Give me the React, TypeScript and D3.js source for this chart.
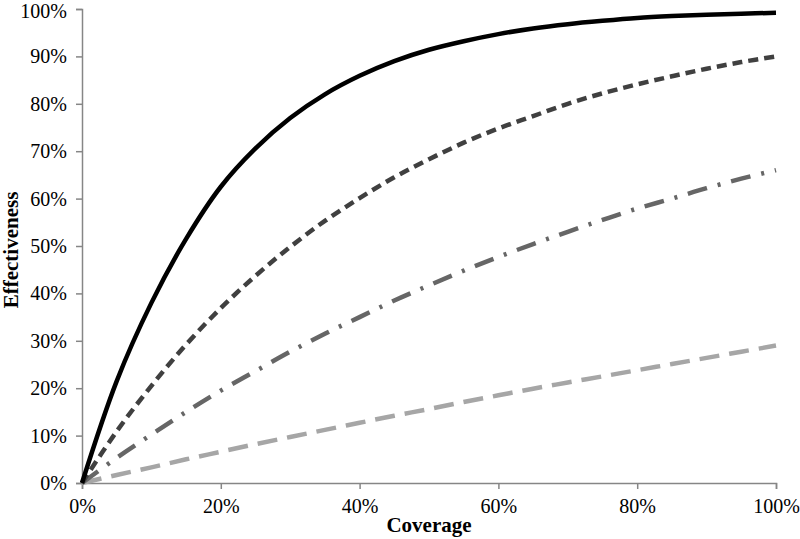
import React, { useEffect, useRef } from "react";
import * as d3 from "d3";

const coverage = [0, 5, 10, 15, 20, 25, 30, 35, 40, 45, 50, 55, 60, 65, 70, 75, 80, 85, 90, 95, 100];
const solidSeries = [0, 21.5, 38, 51.5, 62.5, 70.6, 77, 82, 85.9, 89, 91.4, 93.2, 94.7, 95.9, 96.8, 97.5, 98.1, 98.5, 98.8, 99, 99.2];
const shortDashSeries = [0, 10.9, 20.5, 29.2, 36.9, 43.7, 49.8, 55.3, 60.1, 64.5, 68.3, 71.8, 74.8, 77.4, 80, 82.2, 84.1, 85.8, 87.4, 88.8, 90];
const dashDotSeries = [0, 5.3, 10.2, 15, 19.5, 23.6, 27.7, 31.5, 35, 38.5, 41.7, 44.8, 47.7, 50.4, 53, 55.5, 57.9, 60, 62.2, 64.2, 66];
const longDashSeries = [0, 1.7, 3.3, 5, 6.6, 8.2, 9.7, 11.2, 12.7, 14.2, 15.6, 17.1, 18.5, 19.9, 21.2, 22.5, 23.8, 25.1, 26.4, 27.7, 29];
const tickValues = [0, 20, 40, 60, 80, 100];
const yTickValues = [0, 10, 20, 30, 40, 50, 60, 70, 80, 90, 100];

const seriesList = [
  { values: longDashSeries, color: "#a6a6a6", dash: "20,10" },
  { values: dashDotSeries, color: "#666666", dash: "20,11,3,11" },
  { values: shortDashSeries, color: "#404040", dash: "10,6" },
  { values: solidSeries, color: "#000000", dash: null },
];

export default function App() {
  const ref = useRef<SVGSVGElement>(null);

  useEffect(() => {
    const svg = d3.select(ref.current);
    svg.selectAll("*").remove();

    const width = 800, height = 539;
    const margin = { top: 9, right: 24, bottom: 56, left: 82 };

    const x = d3.scaleLinear().domain([0, 100]).range([margin.left, width - margin.right]);
    const y = d3.scaleLinear().domain([0, 100]).range([height - margin.bottom, margin.top]);

    const font = "'Liberation Serif', serif";

    // axes
    const xAxis = svg.append("g")
      .attr("transform", `translate(0,${height - margin.bottom})`)
      .call(d3.axisBottom(x).tickValues(tickValues).tickFormat(d => `${d}%`).tickSize(6).tickPadding(10));
    const yAxis = svg.append("g")
      .attr("transform", `translate(${margin.left},0)`)
      .call(d3.axisLeft(y).tickValues(yTickValues).tickFormat(d => `${d}%`).tickSize(6).tickPadding(9));

    [xAxis, yAxis].forEach(g => {
      g.select(".domain").attr("stroke", "#868686").attr("stroke-width", 1.5);
      g.selectAll(".tick line").attr("stroke", "#868686").attr("stroke-width", 1.5);
      g.selectAll(".tick text").attr("fill", "#000").style("font-family", font).style("font-size", "20px");
    });
    // keep the top label inside the page
    yAxis.selectAll<SVGTextElement, number>(".tick text").filter(d => d === 100).attr("y", 2);

    const line = d3.line<number>()
      .x((_, i) => x(coverage[i]))
      .y(d => y(d))
      .curve(d3.curveCatmullRom);

    seriesList.forEach(s => {
      svg.append("path")
        .datum(s.values)
        .attr("fill", "none")
        .attr("stroke", s.color)
        .attr("stroke-width", 4.5)
        .attr("stroke-dasharray", s.dash)
        .attr("d", line);
    });

    svg.append("text")
      .attr("x", (margin.left + width - margin.right) / 2)
      .attr("y", 532)
      .attr("text-anchor", "middle")
      .style("font-family", font)
      .style("font-weight", "bold")
      .style("font-size", "21px")
      .text("Coverage");

    svg.append("text")
      .attr("transform", `translate(18,${(margin.top + height - margin.bottom) / 2 + 4}) rotate(-90)`)
      .attr("text-anchor", "middle")
      .style("font-family", font)
      .style("font-weight", "bold")
      .style("font-size", "21px")
      .text("Effectiveness");
  }, []);

  return (
    <svg ref={ref} width={800} height={539}
      style={{ position: "absolute", left: 0, top: 0, background: "#fff" }} />
  );
}
